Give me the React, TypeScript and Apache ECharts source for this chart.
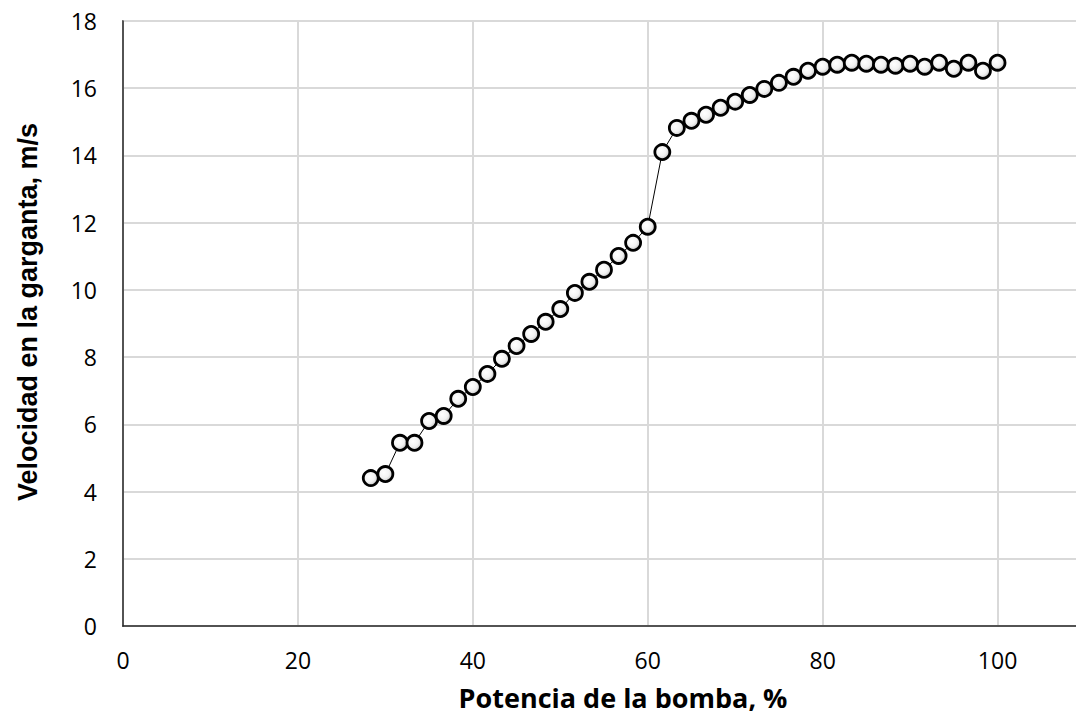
import React, { useEffect, useRef } from "react";
import * as echarts from "echarts";

const potencia = [
  28.33, 30, 31.67, 33.33, 35, 36.67, 38.33, 40, 41.67, 43.33, 45, 46.67, 48.33, 50,
  51.67, 53.33, 55, 56.67, 58.33, 60, 61.67, 63.33, 65, 66.67, 68.33, 70, 71.67, 73.33,
  75, 76.67, 78.33, 80, 81.67, 83.33, 85, 86.67, 88.33, 90, 91.67, 93.33, 95, 96.67,
  98.33, 100,
];
const velocidad = [
  4.4, 4.52, 5.45, 5.45, 6.1, 6.25, 6.76, 7.11, 7.5, 7.95, 8.33, 8.69, 9.05, 9.43,
  9.91, 10.24, 10.6, 11.01, 11.4, 11.88, 14.1, 14.82, 15.03, 15.21, 15.42, 15.6, 15.8,
  15.98, 16.16, 16.34, 16.52, 16.64, 16.7, 16.76, 16.73, 16.7, 16.67, 16.73, 16.64,
  16.76, 16.58, 16.76, 16.52, 16.76,
];
const xTitle = "Potencia de la bomba, %";
const yTitle = "Velocidad en la garganta, m/s";

export default function App() {
  const ref = useRef<HTMLDivElement>(null);
  useEffect(() => {
    if (!ref.current) return;
    const chart = echarts.init(ref.current, null, { renderer: "svg" });
    const data = potencia.map((x, i) => [x, velocidad[i]]);
    chart.setOption({
      animation: false,
      backgroundColor: "#ffffff",
      grid: {
        left: 123,
        top: 21,
        width: 962,
        height: 605,
        outerBoundsMode: "none",
        containLabel: false,
        show: true,
        borderColor: "#595959",
        borderWidth: 1.5,
        backgroundColor: "transparent",
      },
      xAxis: {
        type: "value",
        min: 0,
        max: 110,
        interval: 20,
        axisLine: { show: true, lineStyle: { color: "#262626", width: 1.5 } },
        axisTick: { show: false },
        axisLabel: {
          fontFamily: "Open Sans",
          fontSize: 23,
          color: "#000",
          margin: 22,
          showMaxLabel: false,
        },
        splitLine: { show: true, lineStyle: { color: "#d9d9d9", width: 2 } },
      },
      yAxis: {
        type: "value",
        min: 0,
        max: 18,
        interval: 2,
        axisLine: { show: true, lineStyle: { color: "#262626", width: 1.5 } },
        axisTick: { show: false },
        axisLabel: { fontFamily: "Open Sans", fontSize: 23, color: "#000", margin: 26 },
        splitLine: { show: true, lineStyle: { color: "#d9d9d9", width: 2 } },
      },
      graphic: [
        {
          type: "text",
          x: 28,
          y: 312,
          rotation: Math.PI / 2,
          style: {
            text: yTitle,
            fontFamily: "Liberation Sans",
            fontWeight: "bold",
            fontSize: 27,
            fill: "#000",
            align: "center",
            verticalAlign: "middle",
          },
        },
        {
          type: "text",
          x: 623,
          y: 697,
          style: {
            text: xTitle,
            fontFamily: "Open Sans",
            fontWeight: "bold",
            fontSize: 27,
            fill: "#000",
            align: "center",
            verticalAlign: "middle",
          },
        },
      ],
      series: [
        {
          type: "line",
          data,
          symbol: "circle",
          symbolSize: 15,
          lineStyle: { color: "#000", width: 1 },
          itemStyle: {
            color: new echarts.graphic.RadialGradient(0.4, 0.4, 0.6, [
              { offset: 0, color: "#ffffff" },
              { offset: 0.6, color: "#f2f2f2" },
              { offset: 1, color: "#c8c8c8" },
            ]),
            borderColor: "#000",
            borderWidth: 2.8,
          },
        },
      ],
    });
    return () => chart.dispose();
  }, []);
  return (
    <div
      ref={ref}
      style={{ position: "absolute", left: 0, top: 0, width: 1076, height: 715 }}
    />
  );
}
